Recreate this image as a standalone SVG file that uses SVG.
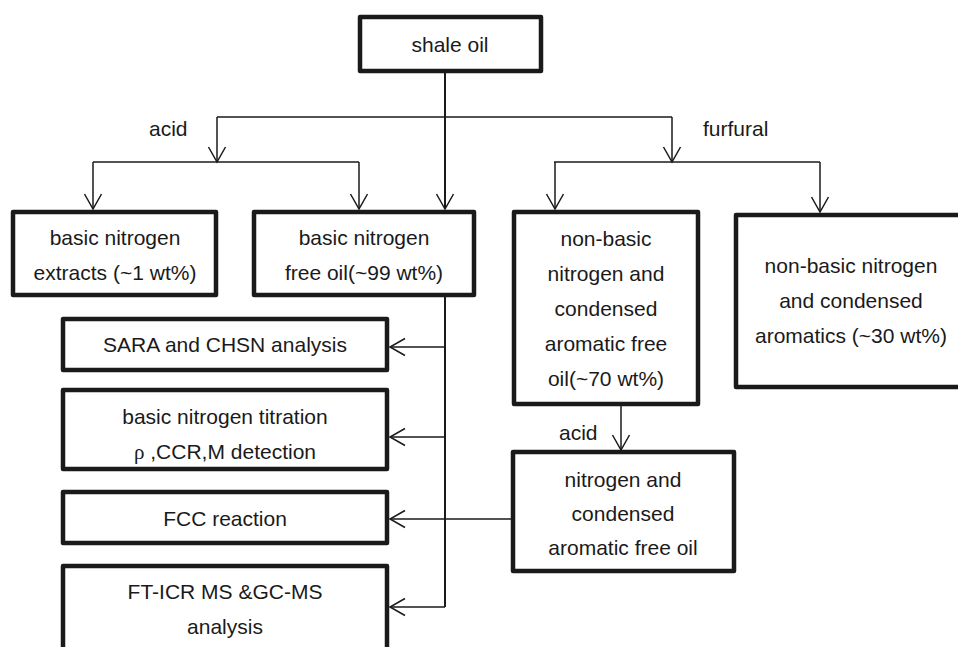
<svg xmlns="http://www.w3.org/2000/svg" width="958" height="647" viewBox="0 0 958 647">
<defs>
<marker id="arr" markerUnits="userSpaceOnUse" markerWidth="20" markerHeight="20" viewBox="-16 -10 18 20" refX="0" refY="0" orient="auto">
<path d="M-15,-8.5 L0,0 L-15,8.5" fill="none" stroke="#1a1a1a" stroke-width="1.5"/>
</marker>
<style>
.box{fill:#fff;stroke:#1a1a1a;stroke-width:4.5;stroke-linejoin:round}
.t{font-family:"Liberation Sans",Arial,sans-serif;font-size:21px;fill:#1a1a1a;text-anchor:middle}
.lbl{font-family:"Liberation Sans",Arial,sans-serif;font-size:21px;fill:#1a1a1a}
.c{fill:none;stroke:#1a1a1a;stroke-width:1.5}
.ca{fill:none;stroke:#1a1a1a;stroke-width:1.5;marker-end:url(#arr)}
</style>
</defs>
<rect width="958" height="647" fill="#fff"/>
<g id="connectors">
<path class="ca" d="M445,73 V209" style="stroke-width:2"/>
<path class="c" d="M217,117 H672"/>
<path class="ca" d="M217,117 V162"/>
<path class="ca" d="M672,117 V162"/>
<path class="c" d="M93,162 H359"/>
<path class="ca" d="M93,162 V209"/>
<path class="ca" d="M359,162 V209"/>
<path class="c" d="M554,162 H820"/>
<path class="ca" d="M555,162 V209"/>
<path class="ca" d="M820,162 V212"/>
<path class="c" d="M445,297 V607" style="stroke-width:2"/>
<path class="ca" d="M445,347 H390"/>
<path class="ca" d="M445,437 H390"/>
<path class="ca" d="M445,607 H390"/>
<path class="ca" d="M512,519 H390"/>
<path class="ca" d="M621,406 V450"/>
<text class="lbl" x="149" y="136">acid</text>
<text class="lbl" x="703" y="136">furfural</text>
<text class="lbl" x="559" y="440">acid</text>
</g>
<g id="shale-oil">
<rect class="box" x="360" y="17" width="181" height="54"/>
<text class="t" x="450" y="52">shale oil</text>
</g>
<g id="basic-nitrogen-extracts">
<rect class="box" x="13" y="212" width="203" height="83"/>
<text class="t" x="115" y="245">basic nitrogen</text>
<text class="t" x="115" y="280">extracts (~1 wt%)</text>
</g>
<g id="basic-nitrogen-free-oil">
<rect class="box" x="254" y="212" width="220" height="83"/>
<text class="t" x="364" y="245">basic nitrogen</text>
<text class="t" x="364" y="280">free oil(~99 wt%)</text>
</g>
<g id="non-basic-free-oil">
<rect class="box" x="514" y="212" width="184" height="192"/>
<text class="t" x="606" y="246">non-basic</text>
<text class="t" x="606" y="281">nitrogen and</text>
<text class="t" x="606" y="316">condensed</text>
<text class="t" x="606" y="351">aromatic free</text>
<text class="t" x="606" y="386">oil(~70 wt%)</text>
</g>
<g id="non-basic-aromatics">
<rect class="box" x="736" y="215" width="240" height="172"/>
<text class="t" x="851" y="273">non-basic nitrogen</text>
<text class="t" x="851" y="308">and condensed</text>
<text class="t" x="851" y="343">aromatics (~30 wt%)</text>
</g>
<g id="sara">
<rect class="box" x="63" y="319" width="324" height="51"/>
<text class="t" x="225" y="352">SARA and CHSN analysis</text>
</g>
<g id="titration">
<rect class="box" x="63" y="390" width="324" height="79"/>
<text class="t" x="225" y="424">basic nitrogen titration</text>
<text class="t" x="225" y="459"><tspan style="font-family:'Liberation Serif',serif">ρ</tspan> ,CCR,M detection</text>
</g>
<g id="fcc">
<rect class="box" x="63" y="492" width="324" height="51"/>
<text class="t" x="225" y="526">FCC reaction</text>
</g>
<g id="fticr">
<rect class="box" x="63" y="566" width="324" height="100"/>
<text class="t" x="225" y="599">FT-ICR MS &amp;GC-MS</text>
<text class="t" x="225" y="634">analysis</text>
</g>
<g id="nitrogen-free-oil">
<rect class="box" x="513" y="452" width="221" height="119"/>
<text class="t" x="623" y="487">nitrogen and</text>
<text class="t" x="623" y="521">condensed</text>
<text class="t" x="623" y="555">aromatic free oil</text>
</g>
</svg>
